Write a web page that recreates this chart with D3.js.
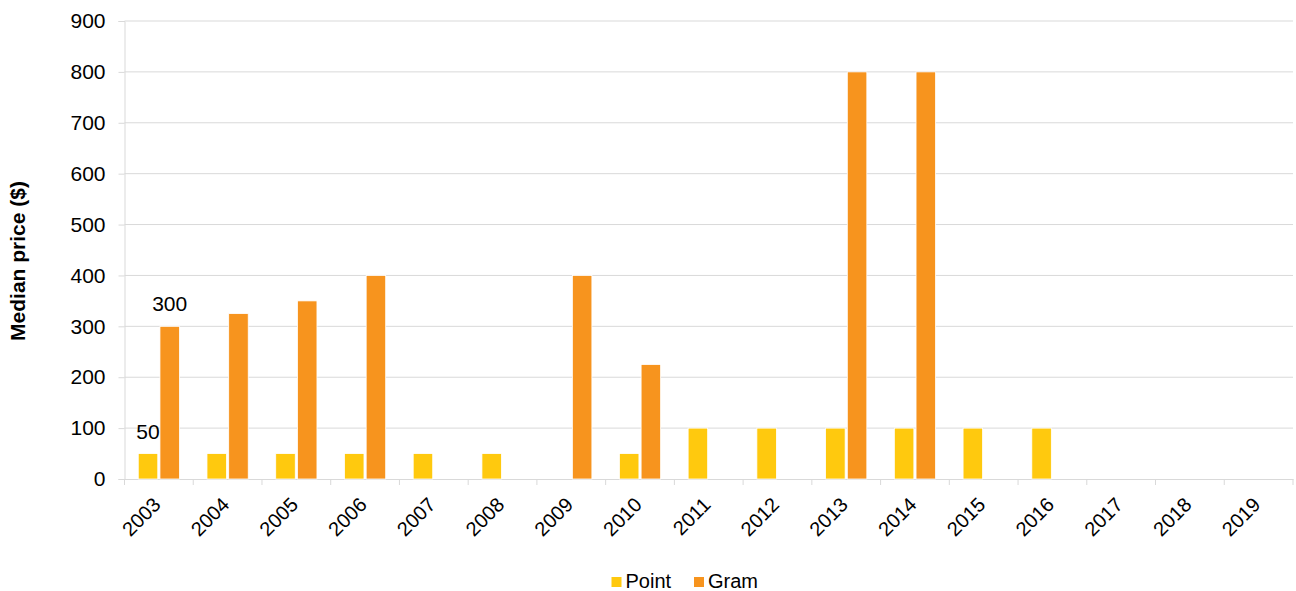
<!DOCTYPE html>
<html>
<head>
<meta charset="utf-8">
<script src="https://cdn.jsdelivr.net/npm/d3@7"></script>
<style>
  body { margin: 0; background: #fff; }
  text { font-family: "Liberation Sans", Arial, sans-serif; fill: #000; }
</style>
</head>
<body>
<div class="chart"></div>
<script>
var years = ["2003", "2004", "2005", "2006", "2007", "2008", "2009", "2010", "2011",
             "2012", "2013", "2014", "2015", "2016", "2017", "2018", "2019"];
var seriesNames = ["Point", "Gram"];
var pointValues = [50, 50, 50, 50, 50, 50, null, 50, 100, 100, 100, 100, 100, 100, null, null, null];
var gramValues = [300, 325, 350, 400, null, null, 400, 225, null, null, 800, 800, null, null, null, null, null];
var yTicks = [0, 100, 200, 300, 400, 500, 600, 700, 800, 900];
var colors = {Point: "#FFC90E", Gram: "#F7941E"};
// value labels shown on the chart (year, series)
var labelled = [{year: "2003", series: "Point"}, {year: "2003", series: "Gram"}];

var width = 1296, height = 591;
var plotLeft = 124.5, plotRight = 1293, plotTop = 21, plotBottom = 479;
var gridColor = "#d9d9d9";

function valueOf(yr, series) {
  var i = years.indexOf(yr);
  return series === "Point" ? pointValues[i] : gramValues[i];
}

var svg = d3.select(".chart").append("svg")
  .attr("width", width)
  .attr("height", height);

var x0 = d3.scaleBand().domain(years).range([plotLeft, plotRight]);
var bw = x0.bandwidth();
var x1 = d3.scaleBand().domain(seriesNames)
  .range([bw * 0.2, bw * 0.8]).paddingInner(0.1);
var y = d3.scaleLinear().domain([0, 900]).range([plotBottom, plotTop]);

// gridlines
svg.append("g").selectAll("line").data(yTicks.slice(1)).enter().append("line")
  .attr("x1", plotLeft).attr("x2", plotRight)
  .attr("y1", function(d) { return y(d); })
  .attr("y2", function(d) { return y(d); })
  .attr("stroke", gridColor).attr("stroke-width", 1);

// y axis
var yAxis = svg.append("g")
  .attr("transform", "translate(" + plotLeft + ",0)")
  .call(d3.axisLeft(y).tickValues(yTicks).tickSize(6).tickPadding(13));
yAxis.select(".domain").attr("stroke", gridColor);
yAxis.selectAll(".tick line").attr("stroke", gridColor);
yAxis.selectAll("text").attr("font-size", 21).attr("font-family", "Liberation Sans, Arial, sans-serif").attr("fill", "#000");

// x axis
var xAxis = svg.append("g")
  .attr("transform", "translate(0," + plotBottom + ")")
  .call(d3.axisBottom(x0).tickSize(0).tickFormat(""));
xAxis.select(".domain").attr("stroke", gridColor);
svg.append("g").selectAll("line").data(years.concat(["end"])).enter().append("line")
  .attr("x1", function(d, i) { return plotLeft + i * bw; })
  .attr("x2", function(d, i) { return plotLeft + i * bw; })
  .attr("y1", plotBottom).attr("y2", plotBottom + 6)
  .attr("stroke", gridColor);
svg.append("g").selectAll("text").data(years).enter().append("text")
  .attr("transform", function(d) {
    return "translate(" + (x0(d) + bw / 2 + 3) + "," + (plotBottom + 27) + ") rotate(-45)";
  })
  .attr("text-anchor", "end")
  .attr("font-size", 20)
  .text(function(d) { return d; });

// bars
var rows = years.map(function(yr) {
  return {year: yr, values: seriesNames.map(function(s) {
    return {series: s, value: valueOf(yr, s)};
  })};
});
var groups = svg.append("g").selectAll("g").data(rows).enter().append("g")
  .attr("transform", function(d) { return "translate(" + x0(d.year) + ",0)"; });
groups.selectAll("rect")
  .data(function(d) { return d.values.filter(function(v) { return v.value != null; }); })
  .enter().append("rect")
  .attr("x", function(d) { return x1(d.series); })
  .attr("y", function(d) { return y(d.value); })
  .attr("width", x1.bandwidth())
  .attr("height", function(d) { return plotBottom - y(d.value); })
  .attr("fill", function(d) { return colors[d.series]; })
  .attr("stroke", "#fff").attr("stroke-width", 0.8);

// value labels
svg.append("g").selectAll("text").data(labelled).enter().append("text")
  .attr("x", function(d) { return x0(d.year) + x1(d.series) + x1.bandwidth() / 2; })
  .attr("y", function(d) { return y(valueOf(d.year, d.series)) - 15; })
  .attr("text-anchor", "middle")
  .attr("font-size", 21)
  .text(function(d) { return valueOf(d.year, d.series); });

// y title
svg.append("text")
  .attr("transform", "translate(25," + ((plotTop + plotBottom) / 2 + 11) + ") rotate(-90)")
  .attr("text-anchor", "middle")
  .attr("font-size", 21)
  .attr("font-weight", "bold")
  .text("Median price ($)");

// legend
var legendX = [611.5, 694];
var legend = svg.append("g").selectAll("g").data(seriesNames).enter().append("g")
  .attr("transform", function(d, i) { return "translate(" + legendX[i] + ",577)"; });
legend.append("rect").attr("width", 10).attr("height", 10)
  .attr("fill", function(d) { return colors[d]; });
legend.append("text").attr("x", 14).attr("y", 11)
  .attr("font-size", 20)
  .text(function(d) { return d; });
</script>
</body>
</html>
